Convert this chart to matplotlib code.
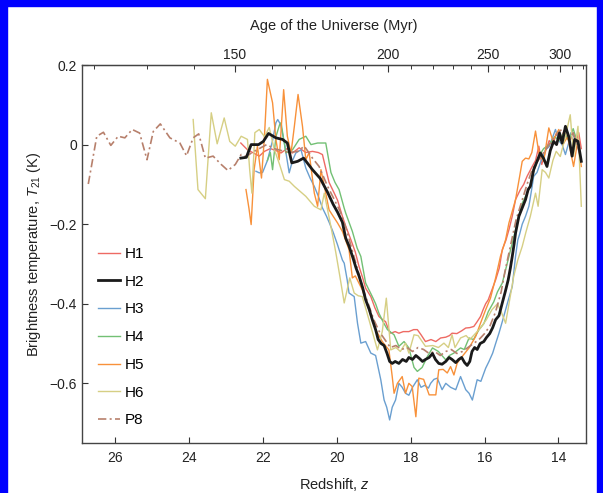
import numpy as np
import matplotlib; matplotlib.use("Agg")
import matplotlib.pyplot as plt
from matplotlib.patches import Rectangle
from matplotlib.ticker import FixedLocator, FuncFormatter

plt.rcParams["font.family"] = ["Liberation Sans", "DejaVu Sans"]
plt.rcParams["mathtext.fontset"] = "custom"
plt.rcParams["mathtext.rm"] = "Liberation Sans"
plt.rcParams["mathtext.it"] = "Liberation Sans:italic"

# ---- data: (redshift z, brightness temperature K) ----
H1_z = [22.60, 22.42, 22.28, 22.10, 21.96, 21.80, 21.65, 21.51, 21.35, 21.20, 21.02, 20.84, 20.66, 20.50, 20.39,
        20.30, 20.21, 20.07, 19.98, 19.85, 19.76, 19.62, 19.50, 19.40, 19.30, 19.22, 19.08, 18.97, 18.86, 18.76,
        18.68, 18.60, 18.54, 18.42, 18.32, 18.20, 18.05, 17.92, 17.82, 17.72, 17.60, 17.45, 17.32, 17.19, 17.05,
        16.95, 16.88, 16.75, 16.62, 16.51, 16.40, 16.29, 16.20, 16.11, 16.04, 15.97, 15.90, 15.84, 15.70, 15.60,
        15.52, 15.42, 15.34, 15.25, 15.16, 15.03, 14.94, 14.85, 14.71, 14.62, 14.53, 14.45, 14.36, 14.25, 14.15,
        14.05, 13.95, 13.85, 13.75, 13.65, 13.55, 13.45, 13.38]
H1_T = [0.004, -0.013, -0.020, -0.029, -0.017, -0.010, -0.015, -0.021, -0.010, -0.021, -0.008, -0.020, -0.017,
        -0.020, -0.025, -0.060, -0.095, -0.122, -0.140, -0.180, -0.205, -0.239, -0.270, -0.306, -0.335, -0.361,
        -0.382, -0.410, -0.432, -0.440, -0.445, -0.465, -0.474, -0.470, -0.474, -0.470, -0.470, -0.465, -0.465,
        -0.478, -0.495, -0.490, -0.495, -0.486, -0.484, -0.480, -0.474, -0.475, -0.468, -0.461, -0.460, -0.457,
        -0.445, -0.432, -0.415, -0.400, -0.390, -0.375, -0.340, -0.310, -0.264, -0.240, -0.214, -0.180, -0.138,
        -0.113, -0.100, -0.080, -0.055, -0.040, -0.004, -0.050, -0.020, 0.010, 0.000, 0.030, 0.010, 0.035, 0.015,
        0.020, 0.000, 0.030, -0.010]

H2_z = [22.60, 22.45, 22.32, 22.12, 21.99, 21.85, 21.65, 21.47, 21.34, 21.22, 21.06, 20.90, 20.66, 20.45, 20.25,
        20.10, 19.98, 19.85, 19.76, 19.67, 19.58, 19.48, 19.40, 19.30, 19.22, 19.12, 19.04, 18.95, 18.88, 18.80,
        18.72, 18.64, 18.57, 18.50, 18.42, 18.32, 18.22, 18.12, 18.05, 17.95, 17.86, 17.77, 17.68, 17.60, 17.50,
        17.41, 17.33, 17.24, 17.15, 17.05, 16.96, 16.88, 16.78, 16.70, 16.62, 16.54, 16.47, 16.40, 16.34, 16.27,
        16.20, 16.12, 16.02, 15.95, 15.86, 15.78, 15.70, 15.61, 15.52, 15.44, 15.36, 15.30, 15.25, 15.20, 15.16,
        15.07, 14.98, 14.89, 14.82, 14.76, 14.67, 14.58, 14.49, 14.40, 14.31, 14.22, 14.13, 14.05, 13.97, 13.90,
        13.81, 13.72, 13.63, 13.56, 13.47, 13.38]
H2_T = [-0.034, -0.032, 0.000, 0.000, 0.008, 0.028, 0.017, 0.013, 0.004, -0.046, -0.042, -0.034, -0.063, -0.085,
        -0.120, -0.150, -0.170, -0.195, -0.235, -0.255, -0.280, -0.310, -0.330, -0.360, -0.390, -0.415, -0.440,
        -0.465, -0.490, -0.500, -0.505, -0.525, -0.545, -0.550, -0.545, -0.550, -0.540, -0.545, -0.535, -0.540,
        -0.530, -0.537, -0.545, -0.540, -0.535, -0.525, -0.540, -0.550, -0.552, -0.545, -0.535, -0.540, -0.548,
        -0.540, -0.535, -0.548, -0.555, -0.545, -0.520, -0.510, -0.515, -0.500, -0.495, -0.485, -0.475, -0.460,
        -0.440, -0.430, -0.398, -0.370, -0.340, -0.310, -0.281, -0.250, -0.222, -0.180, -0.159, -0.138, -0.113,
        -0.105, -0.063, -0.042, -0.021, -0.035, -0.055, -0.015, 0.008, 0.000, 0.029, 0.004, 0.046, 0.020, -0.029,
        0.013, 0.008, -0.042]

H3_z = [22.19, 22.10, 22.01, 21.88, 21.74, 21.65, 21.60, 21.52, 21.42, 21.29, 21.20, 21.11, 20.97, 20.84, 20.72,
        20.61, 20.50, 20.39, 20.28, 20.21, 20.10, 19.98, 19.85, 19.80, 19.72, 19.67, 19.53, 19.44, 19.35, 19.22,
        19.08, 18.95, 18.81, 18.72, 18.65, 18.57, 18.50, 18.41, 18.32, 18.23, 18.14, 18.05, 17.95, 17.82, 17.72,
        17.62, 17.52, 17.46, 17.37, 17.28, 17.15, 17.05, 16.92, 16.78, 16.65, 16.51, 16.42, 16.33, 16.20, 16.10,
        15.97, 15.88, 15.78, 15.70, 15.61, 15.52, 15.43, 15.34, 15.25, 15.16, 15.10, 15.05, 14.98, 14.89, 14.80,
        14.72, 14.67, 14.58, 14.49, 14.35, 14.25, 14.15, 14.08, 13.99, 13.90, 13.81, 13.72, 13.66, 13.58, 13.50]
H3_T = [-0.067, -0.071, -0.070, -0.040, 0.010, 0.055, 0.063, 0.050, 0.004, -0.071, -0.040, -0.021, -0.013,
        -0.059, -0.085, -0.105, -0.130, -0.159, -0.180, -0.195, -0.220, -0.252, -0.290, -0.298, -0.340, -0.373,
        -0.382, -0.449, -0.499, -0.495, -0.524, -0.530, -0.591, -0.642, -0.660, -0.692, -0.660, -0.642, -0.600,
        -0.610, -0.625, -0.630, -0.610, -0.591, -0.610, -0.605, -0.612, -0.600, -0.590, -0.587, -0.616, -0.600,
        -0.610, -0.616, -0.583, -0.616, -0.625, -0.642, -0.591, -0.595, -0.562, -0.545, -0.524, -0.500, -0.474,
        -0.445, -0.415, -0.385, -0.357, -0.280, -0.240, -0.225, -0.200, -0.180, -0.155, -0.110, -0.080, -0.070,
        -0.046, -0.013, -0.005, 0.020, 0.038, 0.010, 0.000, -0.025, 0.005, 0.030, 0.020, 0.000]

H4_z = [21.88, 21.80, 21.74, 21.65, 21.55, 21.51, 21.45, 21.38, 21.20, 21.02, 20.84, 20.70, 20.52, 20.30, 20.16,
        20.05, 19.94, 19.80, 19.76, 19.58, 19.45, 19.35, 19.22, 19.04, 18.95, 18.86, 18.75, 18.63, 18.45, 18.32,
        18.18, 18.05, 17.91, 17.82, 17.69, 17.55, 17.41, 17.25, 17.05, 16.95, 16.83, 16.65, 16.55, 16.42, 16.30,
        16.15, 16.02, 15.90, 15.75, 15.65, 15.52, 15.34, 15.16, 14.98, 14.80, 14.68, 14.53, 14.40, 14.25, 14.10,
        13.98, 13.85, 13.72, 13.60, 13.50]
H4_T = [-0.040, -0.020, -0.063, 0.020, 0.050, 0.055, 0.020, -0.021, -0.013, 0.013, 0.021, 0.000, 0.004, 0.004,
        -0.070, -0.095, -0.113, -0.160, -0.172, -0.218, -0.260, -0.281, -0.348, -0.382, -0.400, -0.424, -0.445,
        -0.465, -0.478, -0.507, -0.495, -0.511, -0.560, -0.570, -0.560, -0.533, -0.511, -0.520, -0.541, -0.530,
        -0.524, -0.511, -0.515, -0.486, -0.490, -0.465, -0.450, -0.420, -0.395, -0.370, -0.348, -0.281, -0.214,
        -0.147, -0.113, -0.070, -0.029, -0.010, 0.000, 0.020, 0.010, 0.030, 0.010, 0.040, 0.010]

H5_z = [22.46, 22.38, 22.32, 22.24, 22.15, 22.04, 21.96, 21.88, 21.74, 21.65, 21.56, 21.44, 21.34, 21.24, 21.15,
        21.05, 20.93, 20.84, 20.75, 20.61, 20.52, 20.43, 20.32, 20.21, 20.10, 19.98, 19.85, 19.67, 19.58, 19.50,
        19.31, 19.13, 18.95, 18.77, 18.59, 18.50, 18.45, 18.36, 18.23, 18.14, 18.05, 17.96, 17.86, 17.78, 17.65,
        17.50, 17.32, 17.24, 17.12, 17.01, 16.92, 16.83, 16.74, 16.61, 16.42, 16.24, 16.11, 15.97, 15.84, 15.70,
        15.57, 15.43, 15.34, 15.16, 15.05, 14.98, 14.89, 14.80, 14.72, 14.62, 14.53, 14.40, 14.26, 14.15, 13.99,
        13.88, 13.75, 13.59, 13.47, 13.38]
H5_T = [-0.113, -0.160, -0.201, -0.063, -0.004, -0.084, 0.020, 0.164, 0.105, 0.013, -0.038, 0.138, 0.021, -0.021,
        0.046, 0.126, 0.046, -0.038, -0.020, -0.122, -0.155, -0.063, -0.113, -0.164, -0.180, -0.197, -0.218,
        -0.264, -0.335, -0.330, -0.365, -0.415, -0.465, -0.495, -0.516, -0.583, -0.625, -0.600, -0.583, -0.625,
        -0.600, -0.608, -0.684, -0.587, -0.590, -0.629, -0.629, -0.566, -0.565, -0.574, -0.558, -0.579, -0.549,
        -0.533, -0.511, -0.482, -0.449, -0.415, -0.386, -0.335, -0.281, -0.239, -0.197, -0.138, -0.080, -0.042,
        -0.034, -0.036, -0.020, 0.034, -0.021, -0.042, 0.042, 0.010, 0.038, 0.000, 0.020, -0.055, 0.013, -0.055]

H6_z = [23.89, 23.76, 23.56, 23.40, 23.24, 23.05, 22.90, 22.75, 22.59, 22.42, 22.36, 22.30, 22.22, 22.10, 21.96,
        21.83, 21.70, 21.55, 21.42, 21.29, 21.15, 20.84, 20.61, 20.43, 20.34, 20.16, 20.03, 19.92, 19.80, 19.65,
        19.53, 19.42, 19.31, 19.13, 18.90, 18.77, 18.66, 18.54, 18.40, 18.28, 18.14, 18.05, 17.91, 17.80, 17.60,
        17.40, 17.25, 17.10, 16.98, 16.88, 16.80, 16.65, 16.50, 16.40, 16.24, 16.10, 15.95, 15.80, 15.65, 15.55,
        15.43, 15.32, 15.21, 15.10, 14.98, 14.88, 14.76, 14.62, 14.55, 14.44, 14.35, 14.26, 14.15, 14.06, 13.95,
        13.81, 13.68, 13.59, 13.47, 13.38]
H6_T = [0.063, -0.113, -0.136, 0.080, 0.002, 0.067, 0.008, -0.004, 0.021, 0.013, -0.063, -0.122, 0.030, 0.038,
        0.020, 0.043, -0.010, -0.050, -0.088, -0.092, -0.105, -0.130, -0.155, -0.164, -0.122, -0.206, -0.270,
        -0.330, -0.398, -0.335, -0.373, -0.380, -0.382, -0.440, -0.516, -0.470, -0.386, -0.516, -0.510, -0.520,
        -0.499, -0.524, -0.478, -0.480, -0.507, -0.505, -0.510, -0.499, -0.510, -0.478, -0.510, -0.486, -0.480,
        -0.490, -0.474, -0.460, -0.440, -0.415, -0.400, -0.420, -0.449, -0.390, -0.331, -0.290, -0.256, -0.220,
        -0.180, -0.122, -0.155, -0.063, -0.070, -0.084, -0.040, -0.017, -0.030, 0.021, 0.075, -0.029, 0.046, -0.155]

P8_z = [26.73, 26.50, 26.32, 26.12, 25.92, 25.74, 25.54, 25.34, 25.14, 24.97, 24.78, 24.52, 24.25, 24.07, 23.89,
        23.74, 23.56, 23.35, 23.13, 22.95, 22.75, 22.59, 22.45, 22.30, 22.10, 21.90, 21.70, 21.50, 21.30, 21.06,
        20.88, 20.76, 20.66, 20.48, 20.25, 20.07, 19.90, 19.75, 19.60, 19.45, 19.30, 19.15, 19.00, 18.85, 18.70,
        18.55, 18.40, 18.25, 18.10, 17.95, 17.80, 17.65, 17.50, 17.35, 17.20, 17.05, 16.90, 16.75, 16.60, 16.45,
        16.30, 16.15, 16.00, 15.85, 15.70, 15.55, 15.45, 15.30, 15.15, 15.00, 14.85, 14.70, 14.55, 14.40, 14.25,
        14.10, 13.95, 13.80, 13.70, 13.60, 13.50, 13.40]
P8_T = [-0.099, 0.021, 0.031, -0.002, 0.021, 0.017, 0.038, 0.029, -0.038, 0.033, 0.052, 0.017, 0.004, -0.028,
        0.017, 0.027, -0.034, -0.029, -0.050, -0.065, -0.050, -0.025, -0.030, -0.020, -0.010, 0.000, -0.010,
        -0.015, -0.020, -0.017, -0.004, -0.020, -0.034, -0.055, -0.105, -0.138, -0.170, -0.210, -0.260, -0.310,
        -0.360, -0.400, -0.440, -0.470, -0.490, -0.510, -0.505, -0.515, -0.510, -0.520, -0.510, -0.515, -0.525,
        -0.520, -0.530, -0.520, -0.515, -0.525, -0.520, -0.510, -0.500, -0.490, -0.475, -0.455, -0.420, -0.370,
        -0.320, -0.255, -0.190, -0.145, -0.100, -0.060, -0.040, -0.020, 0.000, 0.020, 0.035, 0.045, 0.010, 0.030,
        0.000, -0.030]

AGE_C = 17370.0   # Myr, t(z) ~ C (1+z)^-1.5


def z2age(z):
    z = np.asarray(z, dtype=float)
    return AGE_C * np.clip(1 + z, 1e-3, None) ** -1.5


def age2z(t):
    t = np.asarray(t, dtype=float)
    return (AGE_C / np.clip(t, 1e-3, None)) ** (2 / 3) - 1


fig = plt.figure(figsize=(6.03, 4.93), dpi=100)
ax = fig.add_axes([0.136, 0.1014, 0.836, 0.7667])

series = [("H1", H1_z, H1_T, "#ee6a63", "-", 1.0, 3),
          ("H2", H2_z, H2_T, "#1a1a1a", "-", 2.0, 10),
          ("H3", H3_z, H3_T, "#6a9fd0", "-", 1.0, 3),
          ("H4", H4_z, H4_T, "#72c074", "-", 1.0, 3),
          ("H5", H5_z, H5_T, "#f8913a", "-", 1.0, 3),
          ("H6", H6_z, H6_T, "#d6cf84", "-", 1.0, 3),
          ("P8", P8_z, P8_T, "#b7806c", (0, (5, 2, 1.2, 2)), 1.2, 4)]
for name, z, T, col, ls, lw, zo in series:
    ax.plot(z, T, color=col, ls=ls, lw=lw, zorder=zo, label=name)

ax.set_xlim(26.9, 13.25)
ax.set_ylim(-0.75, 0.2)
ax.set_xticks([26, 24, 22, 20, 18, 16, 14])
ax.set_yticks([0.2, 0, -0.2, -0.4, -0.6])
ax.yaxis.set_major_formatter(FuncFormatter(lambda v, p: "0" if abs(v) < 1e-9 else f"{v:.1f}".replace("-", "\u2212")))
ax.tick_params(direction="in", length=4, width=0.8, labelsize=10, colors="#333333", labelcolor="#222222")
ax.tick_params(axis="x", pad=6)
for s in ax.spines.values():
    s.set_color("#444444"); s.set_linewidth(1.0)

sec = ax.secondary_xaxis("top", functions=(z2age, age2z))
sec.xaxis.set_major_locator(FixedLocator([150, 200, 250, 300]))
sec.xaxis.set_minor_locator(FixedLocator(list(range(120, 330, 10))))
sec.tick_params(which="major", direction="in", length=5, width=0.8, labelsize=10, colors="#333333", labelcolor="#222222", pad=2)
sec.tick_params(which="minor", direction="in", length=3, width=0.7, colors="#333333")
sec.spines["top"].set_color("#444444")
sec.set_xlabel("Age of the Universe (Myr)", fontsize=10.5, color="#222222", labelpad=13)

ax.set_xlabel("Redshift, $z$", fontsize=10.5, color="#222222", labelpad=8)
ax.set_ylabel("Brightness temperature, $T_{21}$ (K)", fontsize=10.5, color="#222222", labelpad=5)

ax.legend(loc="lower left", bbox_to_anchor=(0.02, 0.025), frameon=False, fontsize=11,
          labelspacing=0.9, handlelength=1.44, handletextpad=0.33, borderaxespad=0.0)

# blue frame round the picture
fig.patches.append(Rectangle((0, 0), 7 / 603, 1, transform=fig.transFigure, color="#0000ff", zorder=20))
fig.patches.append(Rectangle((0, 1 - 6 / 493), 1, 6 / 493, transform=fig.transFigure, color="#0000ff", zorder=20))
fig.patches.append(Rectangle((1 - 6 / 603, 0), 6 / 603, 1, transform=fig.transFigure, color="#0000ff", zorder=20))

fig.savefig("out.png", dpi=100)
